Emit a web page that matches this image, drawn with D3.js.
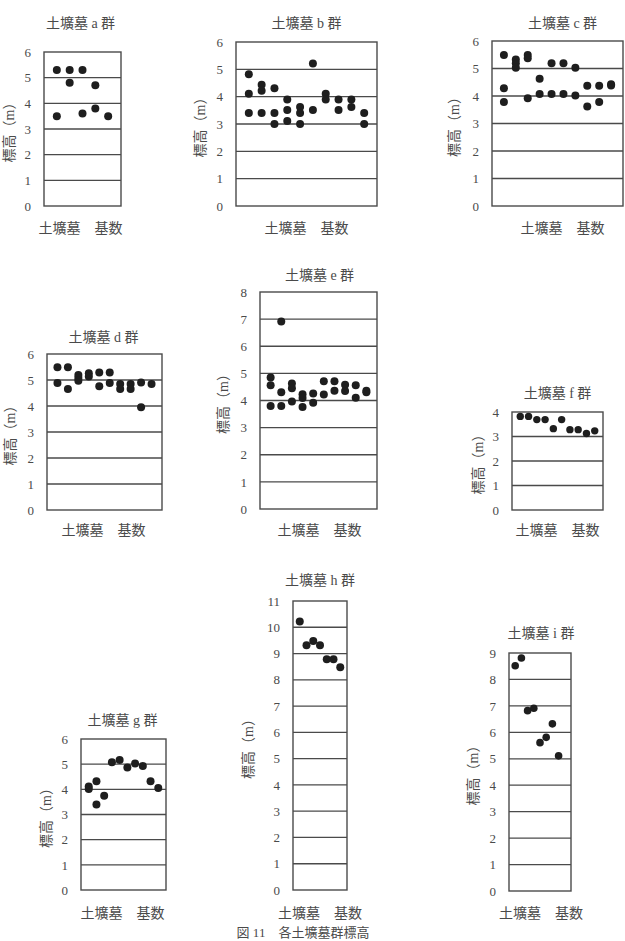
<!DOCTYPE html>
<html><head><meta charset="utf-8">
<script src="https://cdn.jsdelivr.net/npm/d3@7"></script>
<style>
html,body{margin:0;padding:0;background:#fff;}
svg{display:block;}
</style></head>
<body>
<script>
// ---- data ----
const groupLetters = ["a","b","c","d","e","f","g","h","i"];
const yMaxValues  = [6, 6, 6, 6, 8, 4, 6, 11, 9];
const xSlots      = [6, 11, 11, 11, 11, 11, 11, 8, 10];
const titlePrefix = "土壙墓";
const titleSuffix = "群";
const xAxisLabel  = "土壙墓　基数";
const yAxisLabel  = "標高（m）";
const caption     = "図 11　各土壙墓群標高";

// elevation (m) of each tomb, grouped by column
const elevA = [[5.3,3.5],[5.3,4.8],[5.3,3.6],[4.7,3.8],[3.5]];
const elevB = [[4.82,4.11,3.4],[4.44,4.22,3.4],[4.31,3.4,3.0],[3.9,3.51,3.11],[3.62,3.4,3.0],
               [5.21,3.51],[4.11,3.9],[3.9,3.51],[3.9,3.62],[3.4,3.0]];
const elevC = [[5.49,4.28,3.78],[5.33,5.19,5.03],[5.49,5.37,3.92],[4.63,4.07],[5.19,4.07],
               [5.19,4.07],[5.03,4.02],[4.37,3.62],[4.37,3.78],[4.43,4.38]];
const elevD = [[5.49,4.88],[5.49,4.65],[5.19,5.08,4.97],[5.26,5.13],[5.29,4.76],
               [5.29,4.88],[4.85,4.65],[4.85,4.65],[4.9,3.95],[4.85]];
const elevE = [[4.85,4.56,3.8],[6.91,4.3,3.8],[4.63,4.45,3.96],[4.23,4.09,3.76],[4.26,3.92],
               [4.71,4.22],[4.71,4.36],[4.58,4.35],[4.56,4.1],[4.36,4.3]];
const elevF = [[3.82],[3.82],[3.69],[3.69],[3.32],[3.69],[3.28],[3.28],[3.12],[3.23]];
const elevG = [[4.11,4.01],[4.32,3.4],[3.75],[5.08],[5.17],[4.87],[5.03],[4.93],[4.32],[4.05]];
const elevH = [[10.22],[9.32],[9.48],[9.32],[8.78],[8.78],[8.48]];
const elevI = [[8.52],[8.81],[6.82],[6.91],[5.61],[5.81],[6.32],[5.11]];
const elevations = [elevA, elevB, elevC, elevD, elevE, elevF, elevG, elevH, elevI];

// ---- layout (positions only) ----
const boxes = [ // [left, right, top, bottom]
  [44,121,52,206],[236,377,42,206],[492,623,41,206],
  [47,162,354,510],[260,377,292,509],[512,603,412,510],
  [81,166,739,890],[293,347,601,890],[509,571,653,891]
];
const titleY  = [23,23,23,337,275,393,720,580,633];
const bottomY = [228,228,228,530,530,530,913,913,913];
const xOffset = [-2,0,5,-1,1,0,-1,0,1];
const yLabelGap = [35,36,38,37,37,34,35,45,36];
const dotR = [4,4,4,4,4,3.7,4,4,3.8];

const W = 625, H = 941;
const serif = "'Liberation Serif','DejaVu Serif','Noto Sans CJK JP',serif";
const textCol = "#4a4a4a", lineCol = "#4a4a4a", dotCol = "#1e1e1e";

const svg = d3.select("body").append("svg").attr("width", W).attr("height", H);

groupLetters.forEach((g, i) => {
  const [x0, x1, y0, y1] = boxes[i];
  const x = d3.scaleLinear().domain([0, xSlots[i]]).range([x0, x1]);
  const y = d3.scaleLinear().domain([0, yMaxValues[i]]).range([y1, y0]);
  const ticks = d3.range(0, yMaxValues[i] + 1);
  const panel = svg.append("g");

  // grid lines
  panel.selectAll("line.grid").data(ticks.slice(1, -1)).join("line")
    .attr("x1", x0).attr("x2", x1)
    .attr("y1", d => y(d)).attr("y2", d => y(d))
    .attr("stroke", lineCol).attr("stroke-width", 1.3);
  // frame
  panel.append("rect").attr("x", x0).attr("y", y0)
    .attr("width", x1 - x0).attr("height", y1 - y0)
    .attr("fill", "none").attr("stroke", lineCol).attr("stroke-width", 1.4);

  // y axis tick labels
  const ax = panel.append("g").attr("transform", `translate(${x0 - 4},0)`)
    .call(d3.axisLeft(y).tickValues(ticks).tickFormat(d3.format("d")).tickSize(0).tickPadding(9));
  ax.select(".domain").remove();
  ax.selectAll("text").attr("font-family", serif).attr("font-size", 13).attr("fill", textCol);

  // points
  const pts = [];
  elevations[i].forEach((col, ci) => col.forEach(v => pts.push({c: ci + 1, v})));
  panel.selectAll("circle").data(pts).join("circle")
    .attr("cx", d => x(d.c)).attr("cy", d => y(d.v)).attr("r", dotR[i]).attr("fill", dotCol);

  const cx = (x0 + x1) / 2 + xOffset[i];
  // title
  panel.append("text").attr("x", cx).attr("y", titleY[i]).attr("dy", "0.35em")
    .attr("text-anchor", "middle").attr("font-family", serif).attr("font-size", 14)
    .attr("fill", textCol).text(`${titlePrefix} ${g} ${titleSuffix}`);
  // x label
  panel.append("text").attr("x", cx).attr("y", bottomY[i]).attr("dy", "0.35em")
    .attr("text-anchor", "middle").attr("font-family", serif).attr("font-size", 14)
    .attr("fill", textCol).text(xAxisLabel);
  // y label
  panel.append("text")
    .attr("transform", `translate(${x0 - yLabelGap[i]},${(y0 + y1) / 2}) rotate(-90)`)
    .attr("text-anchor", "middle").attr("dy", "0.35em")
    .attr("font-family", serif).attr("font-size", 14).attr("fill", textCol).text(yAxisLabel);
});

svg.append("text").attr("x", 303).attr("y", 937).attr("text-anchor", "middle")
  .attr("font-family", serif).attr("font-size", 13).attr("fill", textCol).text(caption);
</script>
</body></html>
